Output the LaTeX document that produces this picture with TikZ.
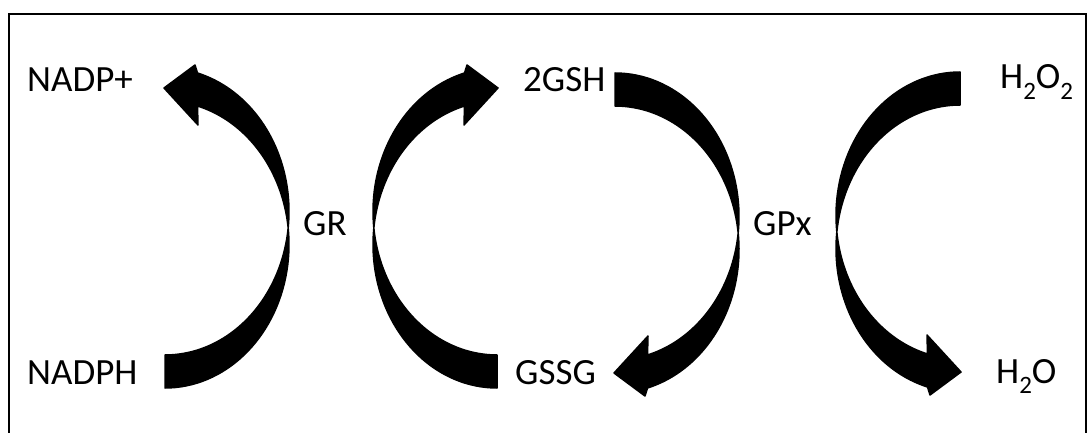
\documentclass[tikz,border=0pt]{standalone}
\usepackage{fontspec}
\setmainfont{Carlito}
\newcommand\lowidx[1]{\raisebox{-10pt}{\fontsize{25}{25}\selectfont #1}}
\begin{document}
\begin{tikzpicture}[x=1pt,y=-1pt,
  % crescent arrow: two equal ellipses offset vertically, tail at the origin's x
  crescent/.pic={
    \fill[black, draw=black, line width=1.5pt, line join=round]
      plot[domain=90:-6.6, samples=40, variable=\t] ({124*cos(\t)}, {16.5+143.5*sin(\t)})
      -- plot[domain=6.6:-74.8, samples=40, variable=\t] ({124*cos(\t)}, {-16.5+143.5*sin(\t)})
      -- (30,-163) -- (-1,-140) -- (33,-103)
      -- plot[domain=-74.8:-6.6, samples=40, variable=\t] ({124*cos(\t)}, {16.5+143.5*sin(\t)})
      -- plot[domain=6.6:90, samples=40, variable=\t] ({124*cos(\t)}, {-16.5+143.5*sin(\t)})
      -- cycle;
  },
  lbl/.style={anchor=base west, inner sep=0pt, font=\fontsize{37}{44}\selectfont}
]
\useasboundingbox (0,0) rectangle (1091,433);
\clip (0,0) rectangle (1091,433);
\fill[white] (0,0) rectangle (1091,433);

% frame
\draw[line width=2pt] (9,445) -- (9,14) -- (1086,14) -- (1086,445);

% curved arrows
\pic at (165,228) {crescent};
\pic[xscale=-1] at (497,228) {crescent};
\pic[yscale=-1] at (615,233) {crescent};
\pic[xscale=-1,yscale=-1] at (960,232) {crescent};

% labels
\node[lbl] (nadpp) at (27,92) {NADP+};
\node[lbl] (nadph) at (27,384) {NADPH};
\node[lbl] (gr) at (303,235) {GR};
\node[lbl] (gsh) at (523,92) {2GSH};
\node[lbl] (gssg) at (515,384) {GSSG};
\node[lbl] (gpx) at (753,235) {GPx};
\node[lbl] (hoo) at (1000,89) {H\lowidx{2}O\lowidx{2}};
\node[lbl] (ho) at (996,383) {H\lowidx{2}O};
\end{tikzpicture}
\end{document}
